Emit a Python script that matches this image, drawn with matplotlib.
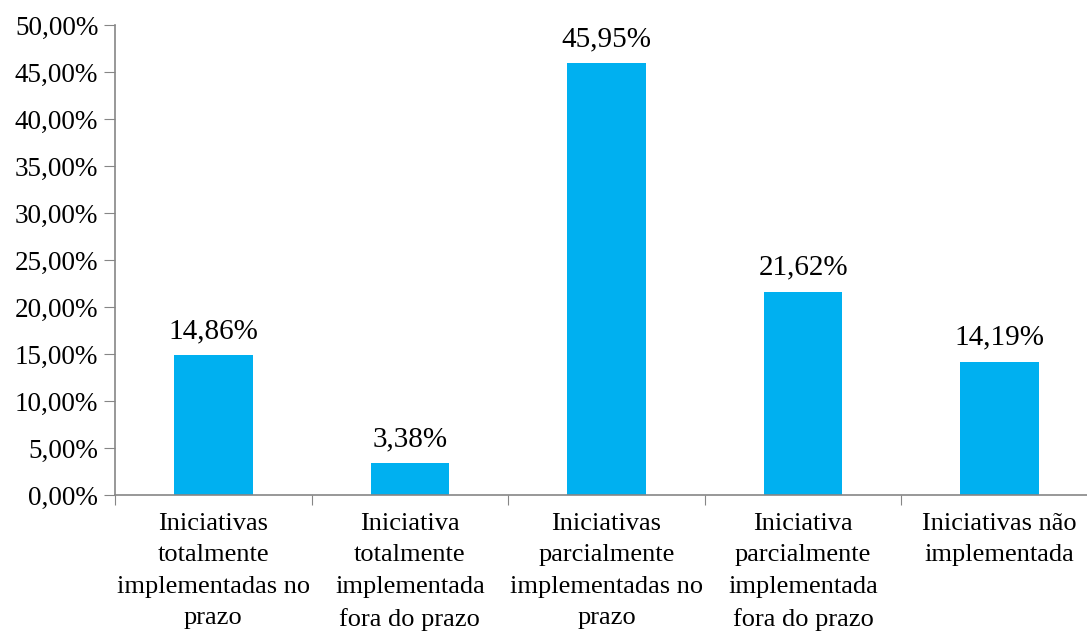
import matplotlib
matplotlib.use("Agg")
import matplotlib.pyplot as plt
import numpy as np

categories = [
    "Iniciativas\ntotalmente\nimplementadas no\nprazo",
    "Iniciativa\ntotalmente\nimplementada\nfora do prazo",
    "Iniciativas\nparcialmente\nimplementadas no\nprazo",
    "Iniciativa\nparcialmente\nimplementada\nfora do prazo",
    "Iniciativas não\nimplementada",
]
values = [14.86, 3.38, 45.95, 21.62, 14.19]
yticks = [0, 5, 10, 15, 20, 25, 30, 35, 40, 45, 50]


def pct(v):
    return f"{v:.2f}%".replace(".", ",")


plt.rcParams["font.family"] = ["Liberation Serif", "DejaVu Serif"]

fig = plt.figure(figsize=(10.87, 6.33), dpi=100)
ax = fig.add_axes([0.1058, 0.218, 0.9043, 0.7425])

x = np.arange(len(values))
ax.bar(x, values, width=0.40, color="#00B0F0", zorder=2)

for xi, v in zip(x, values):
    ax.annotate(pct(v), xy=(xi, v), xytext=(0, 8), textcoords="offset points",
                ha="center", va="bottom", fontsize=21)

ax.set_xlim(-0.5, len(values) - 0.5)
ax.set_ylim(0, 50)
ax.set_yticks(yticks)
ax.set_yticklabels([pct(t) for t in yticks], fontsize=19.5)

# boundary ticks (major) and centered category labels (minor)
ax.set_xticks(np.arange(-0.5, len(values), 1.0))
ax.set_xticklabels([])
ax.set_xticks(x, minor=True)
ax.set_xticklabels(categories, minor=True, fontsize=19, linespacing=1.55)
ax.tick_params(axis="x", which="minor", length=0, pad=13)
ax.tick_params(axis="x", which="major", length=7, color="#868686", direction="out")
ax.tick_params(axis="y", length=8, color="#868686", direction="out", pad=4)

for s in ["top", "right"]:
    ax.spines[s].set_visible(False)
for s in ["left", "bottom"]:
    ax.spines[s].set_color("#868686")
    ax.spines[s].set_linewidth(1.2)

fig.savefig("out.png", dpi=100)
